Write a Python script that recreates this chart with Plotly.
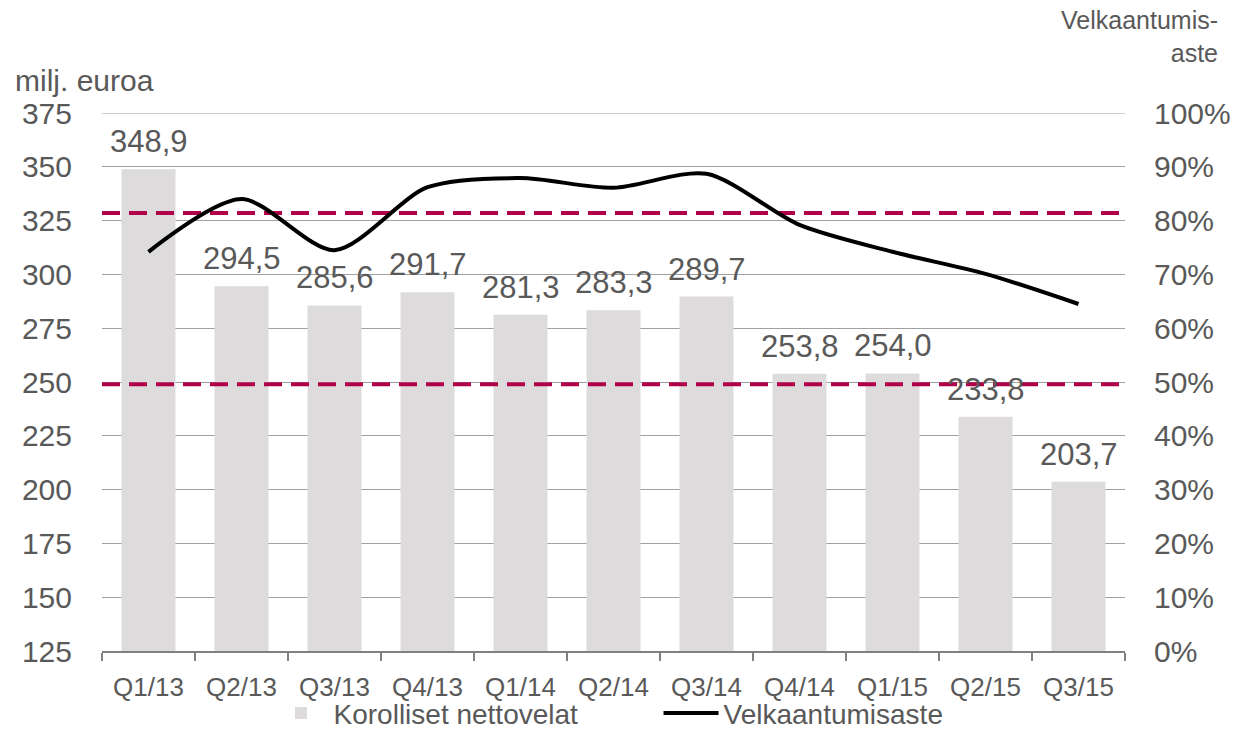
import plotly.graph_objects as go

categories = ["Q1/13", "Q2/13", "Q3/13", "Q4/13", "Q1/14", "Q2/14", "Q3/14",
              "Q4/14", "Q1/15", "Q2/15", "Q3/15"]
net_debt = [348.9, 294.5, 285.6, 291.7, 281.3, 283.3, 289.7, 253.8, 254.0, 233.8, 203.7]
gearing = [0.742, 0.840, 0.745, 0.862, 0.879, 0.861, 0.887, 0.792, 0.742, 0.701, 0.645]
target_band = [0.814, 0.496]
debt_labels = ["348,9", "294,5", "285,6", "291,7", "281,3", "283,3", "289,7",
               "253,8", "254,0", "233,8", "203,7"]
left_range = [125, 375]

FONT = "Liberation Sans, Arial, sans-serif"
TXT = "#595959"
idx = list(range(len(categories)))
bounds = [i - 0.5 for i in range(len(categories) + 1)]

fig = go.Figure()
fig.add_trace(go.Bar(
    x=idx, y=net_debt, name="Korolliset nettovelat",
    marker=dict(color="#dddbdc", line=dict(width=0)),
    width=0.58, yaxis="y",
))
for lvl in target_band:
    fig.add_trace(go.Scatter(
        x=[bounds[0], bounds[-1]], y=[lvl, lvl], mode="lines",
        line=dict(color="#b0004a", width=4, dash="18px,9px"),
        showlegend=False, hoverinfo="skip", yaxis="y2",
    ))
fig.add_trace(go.Scatter(
    x=idx, y=gearing, name="Velkaantumisaste", mode="lines",
    line=dict(color="black", width=4, shape="spline", smoothing=0.8),
    yaxis="y2",
))

for i, (v, t) in enumerate(zip(net_debt, debt_labels)):
    fig.add_annotation(x=i, y=v, xref="x", yref="y", text=t, showarrow=False,
                       yanchor="bottom", yshift=8,
                       font=dict(family=FONT, size=31, color=TXT))

fig.add_annotation(x=-0.087, y=1.06, xref="paper", yref="paper",
                   xanchor="left", yanchor="middle", text="milj. euroa", showarrow=False,
                   font=dict(family=FONT, size=30, color=TXT))
fig.add_annotation(x=1.093, y=1.142, xref="paper", yref="paper", xanchor="right",
                   yanchor="middle", align="right", text="Velkaantumis-<br>aste",
                   showarrow=False, font=dict(family=FONT, size=25, color=TXT))

# top gridline at the upper end of the left axis
fig.add_shape(type="line", xref="paper", yref="y", x0=0, x1=1,
              y0=left_range[1], y1=left_range[1], layer="below",
              line=dict(color="#a0a0a0", width=1))

# page body adds an 8px offset; size the figure so the plot lands where it should
fig.update_layout(
    width=1230, height=722,
    margin=dict(l=94, r=113, t=105, b=79, autoexpand=False),
    plot_bgcolor="white", paper_bgcolor="white",
    font=dict(family=FONT, color=TXT),
    xaxis=dict(
        range=[bounds[0], bounds[-1]], tickmode="array", tickvals=idx,
        ticktext=categories, ticks="", showgrid=False, zeroline=False,
        showline=True, linecolor="#808080", linewidth=1.5,
        tickfont=dict(family=FONT, size=26, color=TXT), ticklabelstandoff=12,
        automargin=False,
        minor=dict(tickmode="array", tickvals=bounds, ticks="outside",
                   ticklen=8, tickcolor="#808080", tickwidth=1.5, showgrid=False),
    ),
    xaxis2=dict(
        range=[bounds[0], bounds[-1]], overlaying="x", anchor="y", side="bottom",
        tickmode="array", tickvals=bounds, ticks="inside", ticklen=7,
        tickcolor="#808080", tickwidth=1.5, showticklabels=False,
        showgrid=False, zeroline=False, showline=False, automargin=False,
    ),
    yaxis=dict(
        range=left_range, dtick=25, tick0=125, showgrid=True,
        gridcolor="#a0a0a0", gridwidth=1, zeroline=False, ticks="",
        tickfont=dict(family=FONT, size=30, color=TXT), ticklabelstandoff=29,
        automargin=False,
    ),
    yaxis2=dict(
        range=[0, 1], dtick=0.1, tickformat=".0%", overlaying="y", side="right",
        showgrid=False, zeroline=False, ticks="",
        tickfont=dict(family=FONT, size=30, color=TXT), ticklabelstandoff=28,
        automargin=False,
    ),
    legend=dict(orientation="h", x=0.544, xanchor="center",
                y=-0.116, yanchor="middle",
                font=dict(family=FONT, size=28, color=TXT), itemwidth=55,
                entrywidth=320, entrywidthmode="pixels",
                bgcolor="rgba(0,0,0,0)"),
    bargap=0.42,
)

fig.write_html("out.html")
